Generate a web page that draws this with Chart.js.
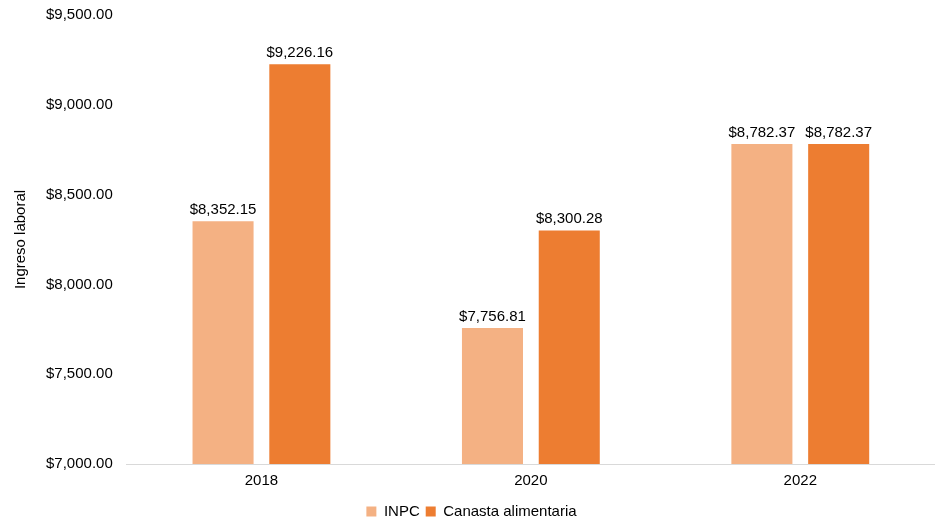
<!DOCTYPE html>
<html>
<head>
<meta charset="utf-8">
<script src="https://cdn.jsdelivr.net/npm/chart.js@4/dist/chart.umd.min.js"></script>
<style>
  html, body { margin: 0; padding: 0; background: #fff; }
  #wrap { width: 935px; height: 523px; }
</style>
</head>
<body>
<div id="wrap"><canvas id="grafico" width="935" height="523"></canvas></div>
<script>
const anios = ["2018", "2020", "2022"];
const inpc = [8352.15, 7756.81, 8782.37];
const canasta = [9226.16, 8300.28, 8782.37];
const ejeY = { min: 7000, max: 9500, paso: 500 };

const fmt = v => "$" + v.toLocaleString("en-US", { minimumFractionDigits: 2, maximumFractionDigits: 2 });

// etiquetas encima de cada barra
const etiquetas = {
  id: "etiquetas",
  afterDatasetsDraw(chart) {
    const ctx = chart.ctx;
    ctx.save();
    ctx.font = "15px 'Liberation Sans', Arial, sans-serif";
    ctx.fillStyle = "#000";
    ctx.textAlign = "center";
    ctx.textBaseline = "bottom";
    chart.data.datasets.forEach((ds, i) => {
      chart.getDatasetMeta(i).data.forEach((bar, j) => {
        ctx.fillText(fmt(ds.data[j]), bar.x, bar.y - 4);
      });
    });
    ctx.restore();
  }
};

Chart.defaults.font.family = "'Liberation Sans', Arial, sans-serif";
Chart.defaults.font.size = 15;
Chart.defaults.color = "#000";

new Chart(document.getElementById("grafico").getContext("2d"), {
  type: "bar",
  data: {
    labels: anios,
    datasets: [
      { label: "INPC", data: inpc, backgroundColor: "#F4B183" },
      { label: "Canasta alimentaria", data: canasta, backgroundColor: "#ED7D31" }
    ]
  },
  options: {
    responsive: false,
    animation: false,
    categoryPercentage: 0.57,
    barPercentage: 0.795,
    layout: { padding: { top: 0, right: 0, left: 8, bottom: -6 } },
    plugins: {
      legend: {
        position: "bottom",
        labels: { boxWidth: 10, boxHeight: 10, padding: 6, font: { size: 15 } }
      },
      tooltip: { enabled: false }
    },
    scales: {
      x: {
        grid: { display: false, drawTicks: false },
        border: { color: "#d9d9d9" },
        ticks: { padding: 8 }
      },
      y: {
        min: ejeY.min,
        max: ejeY.max,
        ticks: { stepSize: ejeY.paso, callback: v => fmt(v), padding: 14 },
        grid: { display: false, drawTicks: false },
        border: { display: false },
        title: { display: true, text: "Ingreso laboral", font: { size: 15 }, padding: { bottom: 2 } },
        afterFit: s => { s.paddingTop = 15; }
      }
    }
  },
  plugins: [etiquetas]
});
</script>
</body>
</html>
